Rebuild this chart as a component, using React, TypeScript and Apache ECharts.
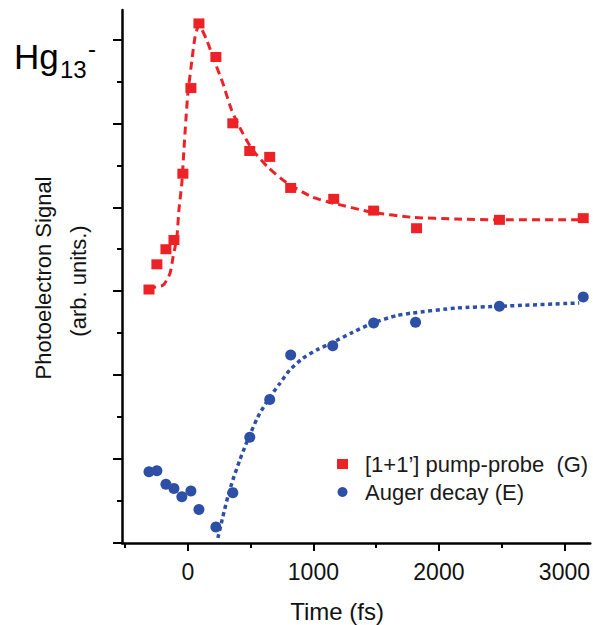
import React, { useEffect, useRef } from "react";
import * as echarts from "echarts";

// Measured data: [1+1'] pump-probe (G)
const pumpProbeTime = [-310, -247, -175, -111, -40, 24, 88, 223, 358, 493, 652, 819, 1162, 1480, 1822, 2482, 3150];
const pumpProbeSignal = [3.02, 3.32, 3.5, 3.61, 4.4, 5.42, 6.19, 5.79, 5.0, 4.67, 4.6, 4.23, 4.1, 3.96, 3.75, 3.85, 3.87];

// Measured data: Auger decay (E)
const augerTime = [-310, -247, -175, -111, -48, 24, 88, 223, 358, 493, 652, 819, 1154, 1480, 1814, 2482, 3150];
const augerSignal = [0.85, 0.86, 0.7, 0.65, 0.55, 0.62, 0.4, 0.19, 0.6, 1.26, 1.71, 2.24, 2.35, 2.62, 2.63, 2.82, 2.93];

// Fit curves
const pumpFitTime = [-318, -199, -143, -119, -88, -72, -48, -32, -16, 0, 32, 56, 88, 151, 199, 278, 350, 438, 517, 636, 788, 994, 1154, 1472, 1790, 2140, 2482, 3150];
const pumpFitSignal = [3.04, 3.07, 3.21, 3.4, 3.64, 3.96, 4.29, 4.68, 5.04, 5.36, 5.75, 6.02, 6.17, 5.99, 5.79, 5.48, 5.15, 4.88, 4.68, 4.48, 4.29, 4.12, 4.05, 3.94, 3.88, 3.86, 3.85, 3.85];

const augerFitTime = [239, 278, 318, 358, 414, 477, 557, 636, 732, 811, 915, 1026, 1154, 1313, 1472, 1663, 1790, 2140, 2482, 3118];
const augerFitSignal = [0.06, 0.31, 0.55, 0.75, 0.99, 1.23, 1.5, 1.7, 1.9, 2.06, 2.2, 2.3, 2.39, 2.51, 2.62, 2.71, 2.74, 2.8, 2.82, 2.86];

// Axis ticks
const xLabelTicks = [0, 1000, 2000, 3000];
const xMinorTicks = [-500, 500, 1500, 2500];
const yMajorTicks = [0, 1, 2, 3, 4, 5, 6];
const yMinorTicks = [0.5, 1.5, 2.5, 3.5, 4.5, 5.5];

const seriesNames = ["[1+1\u2019] pump-probe  (G)", "Auger decay (E)"];

const RED = "#EC2227";
const BLUE = "#2E4FA6";
const FONT = "'Liberation Sans', Arial, Helvetica, sans-serif";

const zip = (xs: number[], ys: number[]) => xs.map((x, i) => [x, ys[i]]);

export default function App() {
  const ref = useRef<HTMLDivElement>(null);

  useEffect(() => {
    document.body.style.margin = "0";
    if (!ref.current) return;
    const chart = echarts.init(ref.current, undefined, { renderer: "svg" });

    const axisLineStyle = { color: "#000", width: 2.5 };
    const tickLine = { color: "#000", width: 2 };

    chart.setOption({
      animation: false,
      backgroundColor: "#fff",
      grid: { left: 122, right: 2, top: 10, bottom: 82 },
      legend: {
        data: seriesNames,
        orient: "vertical",
        left: 332,
        top: 448,
        itemWidth: 11,
        itemHeight: 10,
        itemGap: 6,
        selectedMode: false,
        textStyle: { fontSize: 22, color: "#1a1a1a", fontFamily: FONT, padding: [0, 0, 0, 12] },
      },
      xAxis: [
        {
          type: "value",
          min: -525,
          max: 3206,
          position: "bottom",
          axisLine: { show: true, onZero: false, lineStyle: axisLineStyle },
          axisTick: { show: true, customValues: xLabelTicks, length: 8, lineStyle: tickLine },
          axisLabel: {
            customValues: xLabelTicks,
            formatter: (v: number) => String(v),
            fontSize: 23,
            color: "#111",
            fontFamily: FONT,
            margin: 17,
          },
          splitLine: { show: false },
        },
        {
          type: "value",
          min: -525,
          max: 3206,
          position: "bottom",
          axisLine: { show: false, onZero: false },
          axisTick: { show: true, customValues: xMinorTicks, length: 5, lineStyle: tickLine },
          axisLabel: { show: false },
          splitLine: { show: false },
        },
      ],
      yAxis: [
        {
          type: "value",
          min: 0,
          max: 6.35,
          position: "left",
          axisLine: { show: true, onZero: false, lineStyle: axisLineStyle },
          axisTick: { show: true, customValues: yMajorTicks, length: 9, lineStyle: tickLine },
          axisLabel: { show: false },
          splitLine: { show: false },
        },
        {
          type: "value",
          min: 0,
          max: 6.35,
          position: "left",
          axisLine: { show: false, onZero: false },
          axisTick: { show: true, customValues: yMinorTicks, length: 5, lineStyle: tickLine },
          axisLabel: { show: false },
          splitLine: { show: false },
        },
      ],
      series: [
        {
          type: "line",
          name: "fitG",
          data: zip(pumpFitTime, pumpFitSignal),
          smooth: 0.2,
          showSymbol: false,
          symbol: "none",
          lineStyle: { color: RED, width: 3, type: [8, 5] },
          z: 2,
        },
        {
          type: "line",
          name: "fitE",
          data: zip(augerFitTime, augerFitSignal),
          smooth: 0.2,
          showSymbol: false,
          symbol: "none",
          lineStyle: { color: BLUE, width: 3.5, type: [4, 3.5] },
          z: 2,
        },
        {
          type: "scatter",
          name: seriesNames[0],
          data: zip(pumpProbeTime, pumpProbeSignal),
          symbol: "rect",
          symbolSize: [11, 10],
          itemStyle: { color: RED, opacity: 1 },
          z: 3,
        },
        {
          type: "scatter",
          name: seriesNames[1],
          data: zip(augerTime, augerSignal),
          symbol: "circle",
          symbolSize: 11,
          itemStyle: { color: BLUE, opacity: 1 },
          z: 3,
        },
      ],
      graphic: [
        {
          type: "text",
          x: 14,
          y: 56.5,
          style: { text: "Hg", fontSize: 35, fontFamily: FONT, fill: "#000", textAlign: "left", textVerticalAlign: "middle" },
        },
        {
          type: "text",
          x: 60,
          y: 69,
          style: { text: "13", fontSize: 24, fontFamily: FONT, fill: "#000", textAlign: "left", textVerticalAlign: "middle" },
        },
        {
          type: "text",
          x: 88,
          y: 48,
          style: { text: "-", fontSize: 24, fontFamily: FONT, fill: "#000", textAlign: "left", textVerticalAlign: "middle" },
        },
        {
          type: "text",
          x: 337,
          y: 611,
          style: { text: "Time (fs)", fontSize: 24, fontFamily: FONT, fill: "#111", textAlign: "center", textVerticalAlign: "middle" },
        },
        {
          type: "text",
          x: 43,
          y: 278,
          rotation: Math.PI / 2,
          style: { text: "Photoelectron Signal", fontSize: 22, fontFamily: FONT, fill: "#111", textAlign: "center", textVerticalAlign: "middle" },
        },
        {
          type: "text",
          x: 78,
          y: 281,
          rotation: Math.PI / 2,
          style: { text: "(arb. units.)", fontSize: 22, fontFamily: FONT, fill: "#111", textAlign: "center", textVerticalAlign: "middle" },
        },
      ],
    });

    return () => chart.dispose();
  }, []);

  return <div ref={ref} style={{ width: 593, height: 625 }} />;
}
